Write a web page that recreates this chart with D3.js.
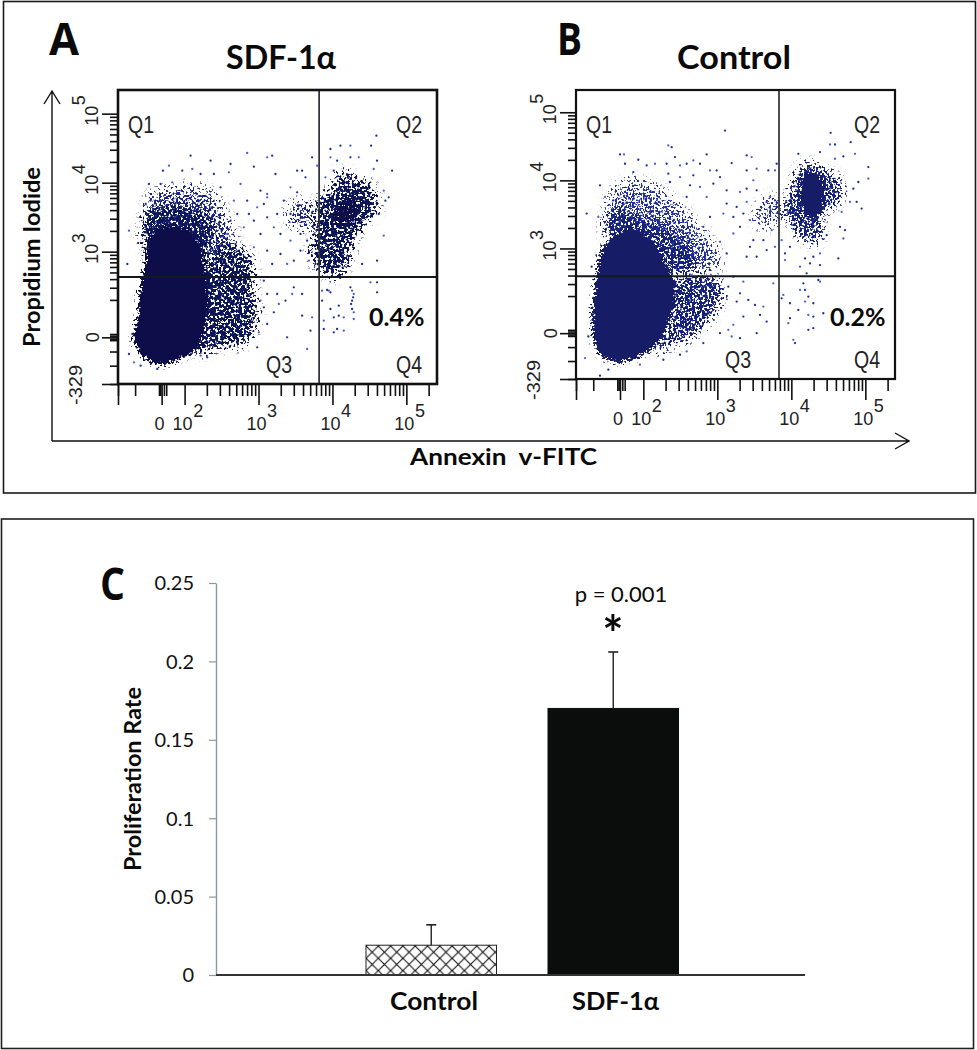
<!DOCTYPE html>
<html><head><meta charset="utf-8">
<script src="https://cdn.jsdelivr.net/npm/d3@7/dist/d3.min.js"></script>
<style>html,body{margin:0;padding:0;background:#fff}svg{display:block}</style>
</head><body><svg id="c" width="977" height="1050"></svg>
<script>
// ---------- DATA (flow data in display channels) ----------
const majorTicks=[0,100,1000,10000,100000];
const minorTicksX=[-329,-200,-20,-10,10,20,200,300,400,500,600,700,800,900,2000,3000,4000,5000,6000,7000,8000,9000,20000,30000,40000,50000,60000,70000,80000,90000,200000];
const minorTicksY=[-329,-200,-100,-20,-10,10,20,200,300,400,500,600,700,800,900,2000,3000,4000,5000,6000,7000,8000,9000,20000,30000,40000,50000,60000,70000,80000,90000];
const decadeLabels=["10","10","10","10"];
const decadeExps=["2","3","4","5"];

const coreA=[[58,110],[48,140],[63,200],[68,280],[83,350],[93,420],[118,460],[168,470],[218,450],[248,400],[263,320],[268,250],[258,180],[238,110],[188,80],[128,60],[88,75]];
const plumeA=[[78,500],[118,530],[188,535],[248,520],[288,470],[268,390],[238,350],[88,390]];
const haloA=[[95,560],[190,590],[270,580],[320,510],[350,430],[320,380],[100,430]];
const lobeA=[[258,370],[328,420],[398,380],[408,280],[418,190],[378,120],[298,110],[238,90],[248,250]];
const q2CoreA=[[648,510],[678,560],[718,560],[718,500],[688,470],[648,480]];
const q2SpeckA=[[668,640],[708,620],[758,600],[778,520],[748,490],[708,430],[698,380],[658,320],[608,340],[578,390],[593,460],[598,550],[638,580]];
const bandA=[[508,520],[548,550],[598,530],[593,470],[528,470]];
const dotsA=[[218,685],[153,655],[135,640],[193,640],[223,645],[278,670],[338,660],[388,693],[463,685],[408,652],[448,680],[583,680],[553,640],[598,655],[538,640],[473,630],[333,635],[288,630],[248,630],[163,605],[128,600],[93,600],[368,600],[308,590],[428,580],[448,570],[538,575],[563,620],[518,590],[498,550],[388,550],[348,550],
[776,745],[760,715],[698,715],[668,715],[638,705],[723,680],[778,670],[823,640],[798,580],[813,560],[803,550],[798,445],[778,370],[733,360],[758,305],[778,305],[778,275],[638,680],[658,670],[698,680],[768,645],[783,510],[648,640],[623,620],
[438,310],[448,270],[428,250],[438,230],[478,270],[483,240],[468,215],[528,290],[523,270],[553,270],[553,205],[583,200],[503,250],[448,180],[423,155],[508,140],[578,160],[568,105],[418,110],[613,250],[633,280],[663,235],[638,225],[618,190],[648,200],[663,205],[678,200],[703,250],[698,290],[708,270],[703,225],[658,165],[678,160],[648,155],[618,165],[708,195],[43,150],[33,90],[48,65],[68,55],[118,45],[248,85],[268,80],[28,360],[33,460],[83,540],[98,550],[703,280],[706,260],[700,240],[708,215],[628,282],[638,275],[613,280],
[408,490],[448,500],[468,470],[488,450],[428,450],[378,470],[338,490],[518,510],[448,560],[438,540],[478,510],[408,410],[448,400],[488,390],[518,430],[548,450],[548,400],[508,360],[463,360],[528,370],[418,530],[393,510],[358,510],[328,450],[353,420],[568,430],[573,370],[593,360]];

const coreB=[[57,108],[52,188],[62,288],[77,378],[112,428],[182,448],[232,408],[272,338],[297,278],[282,188],[242,108],[182,68],[122,53],[77,73]];
const plumeB=[[82,438],[112,518],[172,498],[242,468],[302,438],[352,388],[362,338],[302,308],[192,418]];
const haloB=[[92,518],[152,598],[232,578],[312,518],[362,458],[412,398],[432,338],[332,338],[252,438],[112,458]];
const lobeB=[[302,308],[412,308],[442,258],[402,178],[352,128],[282,98],[232,78],[282,178]];
const q2CoreB=[[687,618],[732,608],[742,538],[722,488],[692,498],[677,558]];
const q2SpeckB=[[682,648],[752,628],[797,588],[792,538],[742,498],[732,418],[702,408],[652,448],[622,508],[642,568]];
const bandB=[[540,500],[590,550],[620,520],[600,470],[550,460]];
const dotsB=[[447,748],[277,703],[287,698],[132,676],[144,676],[392,676],[512,673],[527,668],[187,660],[212,643],[237,648],[272,648],[297,668],[352,658],[372,648],[147,648],[312,643],[332,648],[467,650],[542,633],[512,628],[422,628],[402,628],[352,613],[277,618],[312,608],[172,623],[432,608],[532,598],[577,628],[602,648],[597,628],[342,583],[282,593],[372,578],[412,588],[452,568],[492,563],[512,573],[542,568],[582,548],[597,538],[572,533],[512,533],[482,518],[452,528],[392,548],[332,548],[552,508],[582,513],[602,518],[502,498],[522,478],[492,458],[472,488],[442,498],[402,488],[382,458],[472,438],[532,418],[562,418],[587,448],[522,398],[572,388],[597,398],[512,368],[542,368],[432,413],[452,378],
[764,741],[762,706],[777,706],[824,713],[837,678],[732,683],[667,678],[777,663],[802,670],[877,638],[877,603],[847,593],[832,573],[822,533],[842,533],[857,513],[797,503],[792,458],[807,448],[802,423],[752,433],[787,363],[732,378],[712,368],[687,363],[672,338],[702,348],[732,343],[627,358],[627,378],[642,398],[617,418],[692,318],[727,298],[732,293],[682,288],[687,268],[672,268],[697,248],[712,228],[622,253],[617,243],[642,228],[687,233],[667,208],[712,188],[697,193],[742,198],[642,183],[637,168],[697,148],[712,153],[652,118],[657,108],
[472,308],[502,293],[457,278],[492,258],[592,288],[517,238],[537,223],[562,218],[482,233],[552,193],[472,163],[572,173],[502,188],[457,148],[542,138],[492,123],[467,128],[432,138],[382,108],[332,83],[312,73],[262,58],[192,43],[97,28],[72,10],[27,63],[37,128],[32,498],[67,488],[47,338],[72,583],[87,548],[112,538]];

const barCategories=["Control","SDF-1α"];
const barValues=[0.019,0.17];
const barErrors=[0.032,0.206];
const barTicks=[0,0.05,0.1,0.15,0.2,0.25];

// ---------- PAGE ----------
const svg=d3.select("#c");
const sans="Lato, 'Open Sans', sans-serif", arial="'Liberation Sans', Arial, sans-serif", narrowFam="'Liberation Sans Narrow','Liberation Sans',sans-serif";
const defs=svg.append("defs");
function grain(id,density,blur,color,freq,seed){
  const f=defs.append("filter").attr("id",id).attr("filterUnits","userSpaceOnUse")
    .attr("x",0).attr("y",0).attr("width",977).attr("height",500)
    .attr("color-interpolation-filters","sRGB");
  f.append("feGaussianBlur").attr("in","SourceAlpha").attr("stdDeviation",blur).attr("result","b");
  f.append("feTurbulence").attr("type","fractalNoise").attr("baseFrequency",freq).attr("numOctaves",2).attr("seed",seed).attr("result","n");
  f.append("feColorMatrix").attr("in","n").attr("type","matrix")
    .attr("values","0 0 0 0 0  0 0 0 0 0  0 0 0 0 0  2.6 0 0 0 -0.8").attr("result","na");
  f.append("feComposite").attr("in","b").attr("in2","na").attr("operator","arithmetic")
    .attr("k1",0).attr("k2",density).attr("k3",1).attr("k4",-1).attr("result","m");
  const ct=f.append("feComponentTransfer").attr("in","m").attr("result","t");
  ct.append("feFuncA").attr("type","linear").attr("slope",7).attr("intercept",0);
  f.append("feFlood").attr("flood-color",color).attr("result","col");
  f.append("feComposite").attr("in","col").attr("in2","t").attr("operator","in");
}
grain("solidA",1.5,3,"#0a1048",0.42,3);
grain("q2A",1.0,5,"#0a1048",0.42,21);
grain("midA",0.76,5,"#0e1758",0.38,5);
grain("lowA",0.56,6,"#1a2880",0.42,9);
grain("solidB",1.5,3,"#131c66",0.42,11);
grain("midB",0.72,5,"#18237a",0.42,13);
grain("lowB",0.56,6,"#22309a",0.46,17);
const soft=defs.append("filter").attr("id","soft"); soft.append("feGaussianBlur").attr("stdDeviation",0.35);

function frame(x,y,w,h,col,sw){svg.append("rect").attr("x",x).attr("y",y).attr("width",w).attr("height",h).attr("fill","none").attr("stroke",col).attr("stroke-width",sw);}
frame(3.5,1.5,972,491.5,"#1a1a1a",1.6);
frame(1.5,519,972,529.5,"#1f1f1f",1.6);

function txt(x,y,s,size,weight,anchor,fam,rot,fill){
  const t=svg.append("text").attr("x",x).attr("y",y).text(s).attr("font-size",size).attr("font-weight",weight||400)
   .attr("text-anchor",anchor||"start").attr("font-family",fam||sans).attr("fill",fill||"#0a0a0a");
  if(rot) t.attr("transform",`rotate(${rot} ${x} ${y})`);
  return t;
}
const fit=(t,len)=>t.attr("textLength",len).attr("lengthAdjust","spacingAndGlyphs");

function panel(o){
  const chanFn=(c0,c100,dec)=>v=>{
    if(v<=0) return c0+v*c0/329;
    if(v<100) return c0+v*(c100-c0)/100;
    return c100+(Math.log10(v)-2)*dec;
  };
  const cx=chanFn(...o.xCal), cy=chanFn(...o.yCal);
  const X=d3.scaleLinear().domain([0,o.xMax]).range([o.l,o.r]);
  const Y=d3.scaleLinear().domain([0,o.yMax]).range([o.b,o.t]);
  const g=svg.append("g");
  const line=d3.line().x(d=>X(d[0])).y(d=>Y(d[1])).curve(d3.curveCatmullRomClosed);
  const clip="clip"+o.id;
  defs.append("clipPath").attr("id",clip).append("rect").attr("x",o.l).attr("y",o.t).attr("width",o.r-o.l).attr("height",o.b-o.t);
  const inner=g.append("g").attr("clip-path",`url(#${clip})`);
  const cloud=inner.append("g").attr("filter","url(#soft)");
  o.regions.forEach(r=>cloud.append("path").attr("d",line(r.pts)).attr("fill","#000").attr("filter",`url(#${r.f})`));
  cloud.selectAll("circle.dot").data(o.dots).join("circle").attr("class","dot")
    .attr("cx",d=>X(d[0])).attr("cy",d=>Y(d[1])).attr("r",1.15).attr("fill",(d,i)=>i%3==1?"#4a5fd6":"#1f2f98");

  // quadrant gates
  inner.append("line").attr("x1",X(o.gateX)).attr("x2",X(o.gateX)).attr("y1",o.t).attr("y2",o.b).attr("stroke","#2a2f35").attr("stroke-width",1.7);
  inner.append("line").attr("x1",o.l).attr("x2",o.r).attr("y1",Y(o.gateY)).attr("y2",Y(o.gateY)).attr("stroke","#15181c").attr("stroke-width",2);

  // axes
  const axStyle=a=>{a.select(".domain").remove();a.selectAll("line").attr("stroke","#111").attr("stroke-width",1.6);};
  g.append("g").attr("transform",`translate(0,${o.b})`).call(d3.axisBottom(X).tickValues(minorTicksX.map(cx)).tickSize(o.minorLen).tickFormat("")).call(axStyle);
  g.append("g").attr("transform",`translate(0,${o.b})`).call(d3.axisBottom(X).tickValues(majorTicks.map(cx).concat([cx(-329)])).tickSize(o.majorLen).tickFormat("")).call(axStyle);
  g.append("g").attr("transform",`translate(${o.l},0)`).call(d3.axisLeft(Y).tickValues(minorTicksY.map(cy)).tickSize(8).tickFormat("")).call(axStyle);
  g.append("g").attr("transform",`translate(${o.l},0)`).call(d3.axisLeft(Y).tickValues(majorTicks.filter(v=>v!=100).map(cy).concat([cy(-329)])).tickSize(16).tickFormat("")).call(axStyle);

  g.append("rect").attr("x",o.l).attr("y",o.t).attr("width",o.r-o.l).attr("height",o.b-o.t).attr("fill","none").attr("stroke","#111").attr("stroke-width",o.bw);

  const power=(x,y,base,exp,rot)=>{
    const t=txt(x,y,base,18,400,"start",narrowFam,rot,"#222");
    t.append("tspan").attr("dy",-13).attr("dx",0.5).text(exp);
  };
  // tick labels x
  const ly=o.b+46;
  txt(X(cx(0))-7,ly,"0",18,400,"start",narrowFam,0,"#222");
  decadeLabels.forEach((s,i)=>power(X(cx(majorTicks[i+1]))-12,ly,s,decadeExps[i]));
  // tick labels y
  const lx=o.l-20;
  txt(lx+1,Y(cy(0))+5,"0",18,400,"start",narrowFam,-90,"#222");
  [1000,10000,100000].forEach((v,i)=>power(lx,Y(cy(v))+12,"10",["3","4","5"][i],-90));
  fit(txt(o.l-36,o.b+21,"-329",18,400,"start",narrowFam,-90,"#222"),40);
  // quadrant labels
  const q=(x,y,s)=>fit(txt(x,y,s,23,400,"start",arial,0,"#222"),26);
  q(o.l+10,o.t+43,"Q1"); q(o.r-41,o.t+43,"Q2"); q(o.v3,o.b-11,"Q3"); q(o.r-41,o.b-11,"Q4");
  // titles
  fit(txt(o.titleX,69,o.title,33,700,"middle"),o.titleLen);
  fit(txt(o.letterX,55,o.letter,44,700,"start","'Open Sans',sans-serif"),o.letterLen);
  txt(o.pctX,o.pctY,o.pct,25,700);
}

panel({id:"A",l:118,r:437,t:90,b:384,xMax:958,yMax:882,xCal:[131,200,222],yCal:[140,190,207],gateX:604,gateY:321,minorLen:12,majorLen:21,bw:2.6,
  regions:[{pts:haloA,f:"lowA"},{pts:bandA,f:"lowA"},{pts:lobeA,f:"midA"},{pts:plumeA,f:"midA"},{pts:q2SpeckA,f:"midA"},{pts:coreA,f:"solidA"},{pts:q2CoreA,f:"q2A"}],
  dots:dotsA,title:"SDF-1α",titleX:281,titleLen:110,letter:"A",letterX:49,letterLen:30,pct:"0.4%",pctX:369,pctY:326,v3:266});
panel({id:"B",l:576,r:895,t:90,b:379,xMax:957,yMax:870,xCal:[132,202,222],yCal:[138,188,205],gateX:609,gateY:309,minorLen:12,majorLen:21,bw:2.2,
  regions:[{pts:haloB,f:"lowB"},{pts:bandB,f:"lowB"},{pts:lobeB,f:"midB"},{pts:plumeB,f:"midB"},{pts:q2SpeckB,f:"midB"},{pts:coreB,f:"solidB"},{pts:q2CoreB,f:"solidB"}],
  dots:dotsB,title:"Control",titleX:734,titleLen:114,letter:"B",letterX:557,letterLen:25,pct:"0.2%",pctX:830,pctY:326,v3:725});

// flow axis arrows
const arrow=d=>svg.append("path").attr("d",d).attr("fill","none").attr("stroke","#111").attr("stroke-width",1.4);
arrow("M52 441V91M44 104L52 91L60 104");
arrow("M52 441H909M895 433L909 441L895 449");
fit(txt(40,257,"Propidium Iodide",23,700,"middle",sans,-90),180);
fit(txt(410,465,"Annexin  v-FITC",23,700).style("white-space","pre"),187);

// ---------- PANEL C ----------
const pat=defs.append("pattern").attr("id","hatch").attr("patternUnits","userSpaceOnUse").attr("width",12.3).attr("height",12.3).attr("x",366).attr("y",946);
pat.append("rect").attr("width",12.3).attr("height",12.3).attr("fill","#fff");
pat.append("path").attr("d","M-1 -1L13.3 13.3M-1 13.3L13.3 -1").attr("stroke","#111").attr("stroke-width",1.1);

const yC=d3.scaleLinear().domain([0,0.25]).range([975,583]);
const xC=d3.scaleBand().domain(barCategories).range([366,678.5]).paddingInner(0.283).paddingOuter(0);
const axC=svg.append("g").attr("transform","translate(216,0)").call(d3.axisLeft(yC).tickValues(barTicks).tickSize(7).tickSizeOuter(0).tickFormat(d=>d));
axC.select(".domain").attr("stroke","#8a9a9c").attr("stroke-width",1.4);
axC.selectAll(".tick line").attr("stroke","#8a9a9c").attr("stroke-width",1.2);
axC.selectAll(".tick text").attr("x",-22).attr("dy","0.34em").attr("font-size",20).attr("font-family",sans).attr("fill","#111");

svg.selectAll("rect.bar").data(barValues).join("rect").attr("class","bar")
  .attr("x",(d,i)=>xC(barCategories[i])).attr("width",xC.bandwidth()).attr("y",d=>yC(d)).attr("height",d=>yC(0)-yC(d))
  .attr("fill",(d,i)=>i?"#0b0d0d":"url(#hatch)").attr("stroke",(d,i)=>i?"#0b0d0d":"#222").attr("stroke-width",1);
barErrors.forEach((e,i)=>{
  const c=xC(barCategories[i])+xC.bandwidth()/2;
  svg.append("line").attr("x1",c).attr("x2",c).attr("y1",yC(e)).attr("y2",yC(barValues[i])).attr("stroke","#222").attr("stroke-width",1.4);
  svg.append("line").attr("x1",c-5).attr("x2",c+5).attr("y1",yC(e)).attr("y2",yC(e)).attr("stroke","#222").attr("stroke-width",1.6);
});
svg.append("line").attr("x1",216).attr("x2",805).attr("y1",975).attr("y2",975).attr("stroke","#333").attr("stroke-width",2);
barCategories.forEach((c,i)=>fit(txt(i?615.5:434,1010,c,25,700,"middle"),i?87:88));
fit(txt(141,779,"Proliferation Rate",22,700,"middle",sans,-90),184);
txt(621,602,"p = 0.001",22,400,"middle");
txt(613,652,"*",50,700,"middle");
fit(txt(100,600,"C",44,700,"start","'Open Sans',sans-serif"),25);
</script></body></html>
